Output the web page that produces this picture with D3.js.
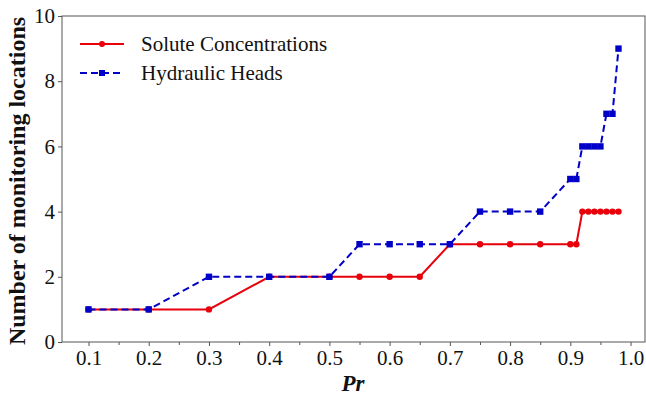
<!DOCTYPE html>
<html>
<head>
<meta charset="utf-8">
<script src="https://cdn.jsdelivr.net/npm/d3@7"></script>
<style>
  html, body { margin: 0; padding: 0; background: #fff; }
  svg { display: block; }
  text { font-family: "Liberation Serif", "Times New Roman", serif; }
</style>
</head>
<body>
<svg id="chart" width="646" height="397"></svg>
<script>
// Probability levels and number of monitoring locations needed
const prLevels = [0.1, 0.2, 0.3, 0.4, 0.5, 0.55, 0.6, 0.65, 0.7, 0.75, 0.8, 0.85, 0.9, 0.91, 0.92, 0.93, 0.94, 0.95, 0.96, 0.97, 0.98];
const soluteCounts = [1, 1, 1, 2, 2, 2, 2, 2, 3, 3, 3, 3, 3, 3, 4, 4, 4, 4, 4, 4, 4];
const headCounts   = [1, 1, 2, 2, 2, 3, 3, 3, 3, 4, 4, 4, 5, 5, 6, 6, 6, 6, 7, 7, 9];
const xTicks = [0.1, 0.2, 0.3, 0.4, 0.5, 0.6, 0.7, 0.8, 0.9, 1.0];
const xMinorTicks = [0.15, 0.25, 0.35, 0.45, 0.55, 0.65, 0.75, 0.85, 0.95];
const yTicks = [0, 2, 4, 6, 8, 10];
const seriesNames = ["Solute Concentrations", "Hydraulic Heads"];

const svg = d3.select("#chart");
const m = { left: 62, right: 1, top: 16, bottom: 55 };
const W = 646, H = 397;

const x = d3.scaleLinear().domain([0.056, 1.024]).range([m.left, W - m.right]);
const y = d3.scaleLinear().domain([0, 10]).range([H - m.bottom, m.top]);

const RED = "#e8000b";
const BLUE = "#0000c8";
const SERIF = "'Liberation Serif', 'Times New Roman', serif";

// Frame
svg.append("rect")
  .attr("x", m.left).attr("y", m.top)
  .attr("width", W - m.right - m.left).attr("height", H - m.bottom - m.top)
  .attr("fill", "none").attr("stroke", "#555").attr("stroke-width", 1);

// X axis
const xAxis = svg.append("g")
  .attr("transform", `translate(0,${H - m.bottom})`)
  .call(d3.axisBottom(x).tickValues(xTicks).tickFormat(d3.format(".1f")).tickSize(4).tickPadding(4));
svg.append("g")
  .attr("transform", `translate(0,${H - m.bottom})`)
  .call(d3.axisBottom(x).tickValues(xMinorTicks).tickFormat("").tickSize(3))
  .call(g => g.select(".domain").remove())
  .selectAll("line").attr("stroke", "#555");
xAxis.select(".domain").remove();
xAxis.selectAll("line").attr("stroke", "#555");
xAxis.selectAll("text")
  .attr("font-size", 21).attr("fill", "#111")
  .style("font-family", SERIF);

// Y axis
const yAxis = svg.append("g")
  .attr("transform", `translate(${m.left},0)`)
  .call(d3.axisLeft(y).tickValues(yTicks).tickFormat(d3.format("d")).tickSize(4).tickPadding(3));
yAxis.select(".domain").remove();
yAxis.selectAll("line").attr("stroke", "#555");
yAxis.selectAll("text")
  .attr("font-size", 21).attr("fill", "#111")
  .style("font-family", SERIF);

// Axis titles
svg.append("text")
  .attr("x", 353).attr("y", 391)
  .attr("text-anchor", "middle")
  .attr("font-size", 23).attr("font-weight", "bold").attr("font-style", "italic")
  .attr("fill", "#111")
  .style("font-family", SERIF)
  .text("Pr");

svg.append("text")
  .attr("transform", `translate(25,${(m.top + H - m.bottom) / 2 + 2}) rotate(-90)`)
  .attr("text-anchor", "middle")
  .attr("font-size", 24).attr("font-weight", "bold")
  .attr("fill", "#111")
  .style("font-family", SERIF)
  .text("Number of monitoring locations");

// Series
const solute = prLevels.map((p, i) => ({ p, v: soluteCounts[i] }));
const heads = prLevels.map((p, i) => ({ p, v: headCounts[i] }));
const line = d3.line().x(d => x(d.p)).y(d => y(d.v));

svg.append("path").datum(solute)
  .attr("d", line).attr("fill", "none")
  .attr("stroke", RED).attr("stroke-width", 2);
svg.append("g").selectAll("circle").data(solute).join("circle")
  .attr("cx", d => x(d.p)).attr("cy", d => y(d.v)).attr("r", 3.2)
  .attr("fill", RED);

svg.append("path").datum(heads)
  .attr("d", line).attr("fill", "none")
  .attr("stroke", BLUE).attr("stroke-width", 2)
  .attr("stroke-dasharray", "7,4");
svg.append("g").selectAll("rect").data(heads).join("rect")
  .attr("x", d => x(d.p) - 3.2).attr("y", d => y(d.v) - 3.2)
  .attr("width", 6.4).attr("height", 6.4)
  .attr("fill", BLUE);

// Legend
const legend = svg.append("g");
const legendRows = [
  { name: seriesNames[0], color: RED, dash: null, marker: "circle", yPos: 44 },
  { name: seriesNames[1], color: BLUE, dash: "7,4", marker: "square", yPos: 73 }
];
legendRows.forEach(r => {
  legend.append("line")
    .attr("x1", 80).attr("x2", 124).attr("y1", r.yPos).attr("y2", r.yPos)
    .attr("stroke", r.color).attr("stroke-width", 2)
    .attr("stroke-dasharray", r.dash);
  if (r.marker === "circle") {
    legend.append("circle").attr("cx", 102).attr("cy", r.yPos).attr("r", 3).attr("fill", r.color);
  } else {
    legend.append("rect").attr("x", 99).attr("y", r.yPos - 3).attr("width", 6).attr("height", 6).attr("fill", r.color);
  }
  legend.append("text")
    .attr("x", 141).attr("y", r.yPos + 7)
    .attr("font-size", 21).attr("fill", "#111")
    .style("font-family", SERIF)
    .text(r.name);
});
</script>
</body>
</html>
